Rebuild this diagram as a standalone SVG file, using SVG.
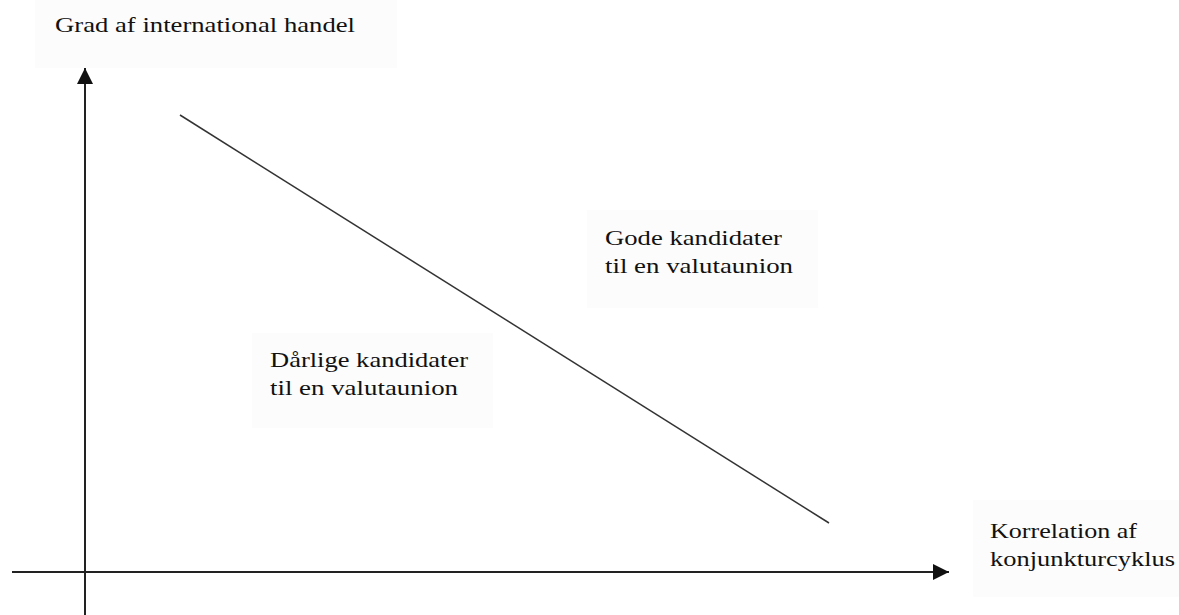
<svg xmlns="http://www.w3.org/2000/svg" width="1179" height="615" viewBox="0 0 1179 615">
<defs>
<style>
.lbl{font-family:"Liberation Serif","Times New Roman",serif;font-size:22px;fill:#111;}
.box{fill:#fcfcfc;stroke:none;}
.ax{stroke:#222;stroke-width:2;fill:none;}
</style>
<marker id="arr" viewBox="0 0 16 16" refX="16" refY="8" markerWidth="16" markerHeight="16" markerUnits="userSpaceOnUse" orient="auto">
<path d="M0,0 L16,8 L0,16 z" fill="#111"/>
</marker>
</defs>
<rect width="1179" height="615" fill="#fff"/>
<g id="label-y">
<rect class="box" x="35" y="0" width="362" height="68"/>
<text class="lbl" x="55" y="32" textLength="300" lengthAdjust="spacingAndGlyphs">Grad af international handel</text>
</g>
<g id="label-good">
<rect class="box" x="587" y="210" width="231" height="98"/>
<text class="lbl" x="605" y="245" textLength="177" lengthAdjust="spacingAndGlyphs">Gode kandidater</text>
<text class="lbl" x="605" y="273" textLength="188" lengthAdjust="spacingAndGlyphs">til en valutaunion</text>
</g>
<g id="label-bad">
<rect class="box" x="252" y="333" width="241" height="95"/>
<text class="lbl" x="270" y="367" textLength="198" lengthAdjust="spacingAndGlyphs">Dårlige kandidater</text>
<text class="lbl" x="270" y="395" textLength="188" lengthAdjust="spacingAndGlyphs">til en valutaunion</text>
</g>
<g id="label-x">
<rect class="box" x="973" y="500" width="206" height="97"/>
<text class="lbl" x="990" y="538" textLength="147" lengthAdjust="spacingAndGlyphs">Korrelation af</text>
<text class="lbl" x="990" y="566" textLength="185" lengthAdjust="spacingAndGlyphs">konjunkturcyklus</text>
</g>
<g id="connectors">
<line class="ax" x1="85" y1="615" x2="85" y2="68" marker-end="url(#arr)"/>
<line class="ax" x1="12" y1="572" x2="949" y2="572" marker-end="url(#arr)"/>
<line x1="180" y1="115" x2="829" y2="523" stroke="#333" stroke-width="1.5"/>
</g>
</svg>
